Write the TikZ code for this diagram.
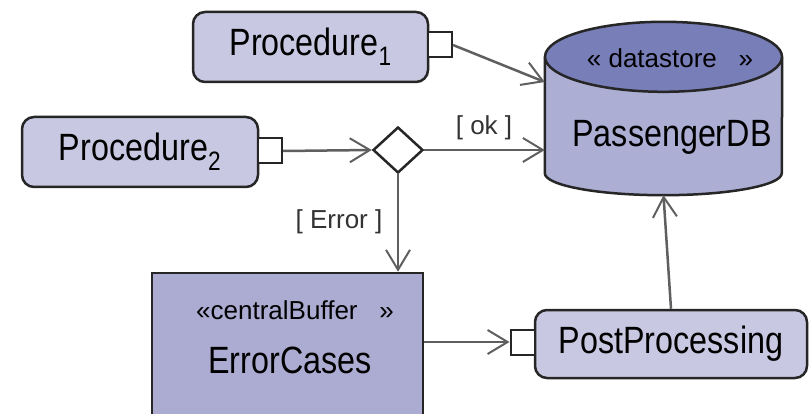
\documentclass[tikz,border=0pt]{standalone}
\usepackage{fontspec}
\setmainfont{Liberation Sans}
\usetikzlibrary{arrows.meta,shapes.geometric}
\definecolor{actfill}{RGB}{200,200,226}
\definecolor{buffill}{RGB}{172,172,210}
\definecolor{dbtop}{RGB}{120,126,184}
\definecolor{dbbody}{RGB}{172,174,212}
\definecolor{edgegray}{RGB}{95,95,95}
\newcommand{\bigtext}[1]{\scalebox{0.85}[1]{\fontsize{38}{40}\selectfont #1}}

\begin{document}
\begin{tikzpicture}[x=1pt,y=-1pt,
    every node/.style={font=\fontsize{26}{28}\selectfont},
    action/.style={rectangle,rounded corners=12pt,draw=black!85,line width=2.5pt,fill=actfill,minimum height=70pt,inner sep=0pt},
    pin/.style={rectangle,draw=black!85,line width=2pt,fill=white,minimum width=24pt,minimum height=25pt,inner sep=0pt},
    flow/.style={draw=edgegray,line width=2.5pt,-{Straight Barb[length=20pt,width=24pt,line width=2pt]}},
    guard/.style={inner sep=0pt,text=black!80}]
        \useasboundingbox (0,0) rectangle (809,414);
        \clip (0,0) rectangle (809,414);
        \node[action,minimum width=235pt] (proc1) at (310.5,47) {\bigtext{Procedure\textsubscript{1}}};
        \node[pin] (port1) at (440,45) {};
        \node[action,minimum width=236pt] (proc2) at (140,152) {\bigtext{Procedure\textsubscript{2}}};
        \node[pin] (port2) at (270,151) {};
        \node[diamond,draw=black!85,line width=2.5pt,fill=white,minimum width=50pt,minimum height=46pt,inner sep=0pt] (dec) at (398,150) {};
        \node[minimum width=237pt,minimum height=116pt,inner sep=0pt] (db) at (663.5,115) {};
        \fill[dbbody] (db.north west) -- (db.south west) arc[start angle=180,end angle=360,x radius=118.5pt,y radius=22pt] -- (db.north east) -- cycle;
        \draw[draw=black!85,line width=2.5pt] (db.north west) -- (db.south west) arc[start angle=180,end angle=360,x radius=118.5pt,y radius=22pt] -- (db.north east);
        \draw[draw=black!85,fill=dbtop,line width=2.5pt] (db.north) ellipse[x radius=118.5pt,y radius=35pt];
        \coordinate (dbbot) at ([yshift=-22pt]db.south);
        \node (dbst) at (670,58) {«~datastore~~~»};
        \node (dbname) at (672,137) {\bigtext{PassengerDB}};
        \node[rectangle,draw=black!85,line width=2.5pt,fill=buffill,minimum width=271pt,minimum height=146pt,inner sep=0pt] (errc) at (287.5,346) {};
        \node (errst) at (295,310) {«centralBuffer~~~»};
        \node (errname) at (290,360) {\bigtext{ErrorCases}};
        \node[action,minimum width=272pt,minimum height=68pt] (post) at (671,344) {\bigtext{PostProcessing}};
        \node[pin] (port3) at (522.5,342) {};
        \draw[flow] (port1.east) -- ([yshift=33pt]db.west);
        \draw[flow] (port2.east) -- (dec.west);
        \draw[flow] (dec.east) -- (dec.east -| db.west);
        \draw[flow] (dec.south) -- (dec.south |- errc.north);
        \draw[flow] (errc.east |- port3.west) -- (port3.west);
        \draw[flow] (post.north) -- (dbbot);
        \node[guard] (okl) at (484,128) {[ ok ]};
        \node[guard] (errl) at (339,222) {[ Error ]};
      \end{tikzpicture}
\end{document}
